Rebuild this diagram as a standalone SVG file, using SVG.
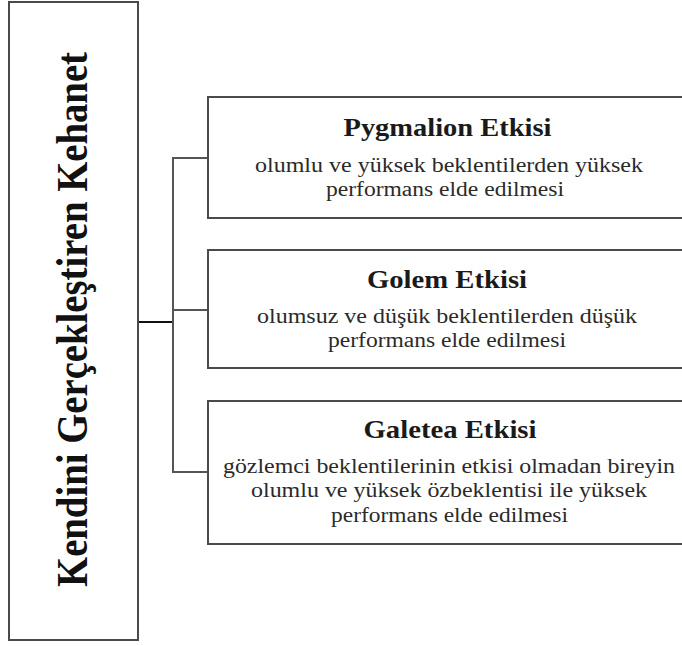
<svg xmlns="http://www.w3.org/2000/svg" width="682" height="646" viewBox="0 0 682 646">
<defs>
<style>
.box{fill:#ffffff;stroke:#4a4a4a;stroke-width:2}
.conn{fill:none;stroke:#555555;stroke-width:2}
.main{fill:none;stroke:#111111;stroke-width:2.2}
.title{font-family:"Liberation Serif","Times New Roman",serif;font-weight:bold;font-size:25px;fill:#1a1a1a;text-anchor:middle}
.body{font-family:"Liberation Serif","Times New Roman",serif;font-size:20px;fill:#2a2a2a;text-anchor:middle}
.vert{font-family:"Liberation Serif","Times New Roman",serif;font-weight:bold;font-size:44px;fill:#111111;text-anchor:middle}
</style>
</defs>
<rect width="682" height="646" fill="#ffffff"/>
<g id="connectors">
<line class="main" x1="138" y1="322" x2="173" y2="322"/>
<polyline class="conn" points="208,158 173,158 173,472 208,472"/>
<line class="conn" x1="173" y1="310" x2="208" y2="310"/>
</g>
<g id="node-root">
<rect class="box" x="9" y="2" width="129" height="638"/>
<text class="vert" transform="translate(87,319.5) rotate(-90)" x="0" y="0" textLength="535" lengthAdjust="spacingAndGlyphs">Kendini Gerçekleştiren Kehanet</text>
</g>
<g id="node-pygmalion">
<rect class="box" x="208" y="97" width="490" height="121"/>
<text class="title" x="447.5" y="136" textLength="208" lengthAdjust="spacingAndGlyphs">Pygmalion Etkisi</text>
<text class="body" x="449" y="172" textLength="388" lengthAdjust="spacingAndGlyphs">olumlu ve yüksek beklentilerden yüksek</text>
<text class="body" x="445" y="196" textLength="238" lengthAdjust="spacingAndGlyphs">performans elde edilmesi</text>
</g>
<g id="node-golem">
<rect class="box" x="208" y="250" width="490" height="118"/>
<text class="title" x="447" y="288" textLength="160" lengthAdjust="spacingAndGlyphs">Golem Etkisi</text>
<text class="body" x="447" y="323" textLength="380" lengthAdjust="spacingAndGlyphs">olumsuz ve düşük beklentilerden düşük</text>
<text class="body" x="447" y="347" textLength="238" lengthAdjust="spacingAndGlyphs">performans elde edilmesi</text>
</g>
<g id="node-galetea">
<rect class="box" x="208" y="401" width="490" height="143"/>
<text class="title" x="450" y="438" textLength="173" lengthAdjust="spacingAndGlyphs">Galetea Etkisi</text>
<text class="body" x="449" y="473" textLength="452" lengthAdjust="spacingAndGlyphs">gözlemci beklentilerinin etkisi olmadan bireyin</text>
<text class="body" x="449" y="497" textLength="396" lengthAdjust="spacingAndGlyphs">olumlu ve yüksek özbeklentisi ile yüksek</text>
<text class="body" x="449.5" y="522" textLength="237" lengthAdjust="spacingAndGlyphs">performans elde edilmesi</text>
</g>
</svg>
